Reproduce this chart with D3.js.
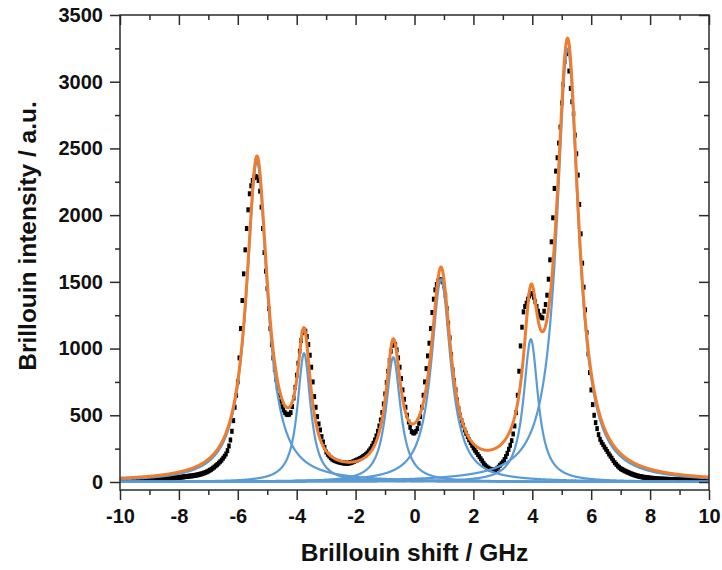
<!DOCTYPE html>
<html><head><meta charset="utf-8">
<script src="https://cdn.jsdelivr.net/npm/d3@7"></script>
<style>body{margin:0;background:#fff} svg{display:block}</style>
</head><body><svg id="c" width="722" height="570"></svg>
<script>
// ---- data ----
// measured Brillouin spectrum, x = -10 ... 10 GHz in 0.05 GHz steps (one row per GHz)
const shiftStart = -10, shiftStep = 0.05;
const intensity = [
  12,12,12,12,13,13,13,13,13,14,14,14,14,15,15,15,15,15,15,16,
  16,16,17,17,18,18,19,20,21,22,23,24,26,27,28,29,30,31,32,33,
  34,35,37,38,40,41,42,44,45,46,48,50,52,54,57,60,63,67,71,76,
  82,88,95,103,112,121,130,141,152,164,178,193,210,235,270,315,380,460,560,650,
  750,930,1150,1360,1560,1740,1900,2040,2160,2220,2260,2280,2290,2285,2260,2180,2060,1900,1720,1580,
  1450,1300,1150,1030,930,845,770,705,650,605,565,540,520,508,505,508,520,565,630,710,
  800,890,980,1060,1120,1140,1130,1090,1030,950,860,750,640,560,490,435,390,340,300,260,
  225,208,195,182,172,165,160,156,152,149,146,144,142,141,140,141,143,146,150,155,
  160,165,170,176,182,190,198,207,218,232,248,268,290,315,345,380,420,465,520,585,
  660,745,830,910,980,1025,1045,1030,990,930,860,775,690,620,560,500,450,410,378,368,
  368,380,400,440,490,560,650,750,850,945,1040,1150,1270,1370,1440,1480,1505,1515,1515,1500,
  1470,1400,1300,1190,1080,955,840,760,690,615,550,500,460,425,390,365,340,317,295,275,
  255,238,222,206,190,174,158,140,125,114,105,98,93,90,90,94,100,111,125,137,
  150,168,190,215,245,275,310,360,420,520,650,830,1020,1160,1275,1315,1340,1370,1395,1410,
  1412,1385,1350,1315,1280,1250,1235,1230,1280,1330,1400,1520,1665,1800,1980,2200,2330,2430,2540,2660,
  2840,2980,3150,3210,3225,3080,2950,2850,2760,2600,2460,2300,2080,1860,1640,1460,1290,1120,960,820,
  690,580,500,445,400,355,320,298,280,262,245,228,210,194,178,160,145,132,120,110,
  100,94,88,82,77,72,67,62,58,54,50,47,44,41,39,37,35,33,32,30,
  29,28,27,26,25,24,23,22,22,21,21,20,20,19,19,18,18,17,17,16,
  16,16,16,16,16,15,15,15,15,15,15,15,15,15,15,15,15,15,15,15,
  15
];
// Lorentzian fit components (centre GHz, height, half width)
const peakCentre = [-5.35, -3.75, -0.72, 0.90, 3.95, 5.20];
const peakHeight = [2400, 965, 935, 1520, 1070, 3248];
const peakHWHM   = [0.43, 0.27, 0.30, 0.40, 0.30, 0.45];

const xTicks = [-10,-8,-6,-4,-2,0,2,4,6,8,10];
const xMinor = [-9,-7,-5,-3,-1,1,3,5,7,9];
const yTicks = [0,500,1000,1500,2000,2500,3000,3500];
const yMinor = [250,750,1250,1750,2250,2750,3250];
const xTitle = "Brillouin shift / GHz";
const yTitle = "Brillouin intensity / a.u.";

// ---- drawing ----
const svg = d3.select("#c");
const L = 120, R = 709, T = 15, B = 490;
const x = d3.scaleLinear().domain([-10, 10]).range([L, R]);
const y = d3.scaleLinear().domain([-60, 3500]).range([B, T]);
const font = "'Liberation Sans', Arial, sans-serif";
const axisCol = "#2b2b2b";

const points = intensity.map((v, i) => ({ s: shiftStart + i * shiftStep, v }));

const lor = (s, k) => peakHeight[k] / (1 + Math.pow((s - peakCentre[k]) / peakHWHM[k], 2));
const grid = d3.range(0, 2001).map(i => -10 + i * 0.01);

svg.append("defs").append("clipPath").attr("id", "pc")
  .append("rect").attr("x", L).attr("y", T).attr("width", R - L).attr("height", B - T);
const plot = svg.append("g").attr("clip-path", "url(#pc)");

// data squares
plot.append("g").selectAll("rect").data(points).join("rect")
  .attr("x", d => x(d.s) - 1.75).attr("y", d => y(d.v) - 2.5)
  .attr("width", 3.5).attr("height", 5).attr("fill", "#000");

const line = d3.line().x(d => x(d[0])).y(d => y(d[1]));

// component curves
peakCentre.forEach((c, k) => {
  plot.append("path").datum(grid.map(s => [s, lor(s, k)]))
    .attr("d", line).attr("fill", "none")
    .attr("stroke", "#5b9bd5").attr("stroke-width", 2.2).attr("stroke-linejoin", "round");
});
// cumulative fit
plot.append("path").datum(grid.map(s => [s, d3.sum(peakCentre, (c, k) => lor(s, k))]))
  .attr("d", line).attr("fill", "none")
  .attr("stroke", "#ed7d31").attr("stroke-width", 3).attr("stroke-linejoin", "round");

// axes
function styleAxis(g) {
  g.select(".domain").remove();
  g.selectAll(".tick line").attr("stroke", axisCol).attr("stroke-width", 1.5);
  g.selectAll("text").attr("font-family", font).attr("font-weight", "bold")
    .attr("font-size", 20).attr("fill", "#111");
}
const fmt = d => String(d);
svg.append("g").attr("transform", `translate(0,${B})`)
  .call(d3.axisBottom(x).tickValues(xTicks).tickSize(10).tickPadding(9).tickFormat(fmt)).call(styleAxis);
svg.append("g").attr("transform", `translate(0,${B})`)
  .call(d3.axisBottom(x).tickValues(xMinor).tickSize(5).tickFormat("")).call(styleAxis);
svg.append("g").attr("transform", `translate(0,${T})`)
  .call(d3.axisTop(x).tickValues(xTicks).tickSize(-10).tickFormat("")).call(styleAxis);
svg.append("g").attr("transform", `translate(0,${T})`)
  .call(d3.axisTop(x).tickValues(xMinor).tickSize(-5).tickFormat("")).call(styleAxis);
svg.append("g").attr("transform", `translate(${L},0)`)
  .call(d3.axisLeft(y).tickValues(yTicks).tickSize(10).tickPadding(7).tickFormat(fmt)).call(styleAxis);
svg.append("g").attr("transform", `translate(${L},0)`)
  .call(d3.axisLeft(y).tickValues(yMinor).tickSize(5).tickFormat("")).call(styleAxis);
svg.append("g").attr("transform", `translate(${R},0)`)
  .call(d3.axisRight(y).tickValues(yTicks).tickSize(-10).tickFormat("")).call(styleAxis);
svg.append("g").attr("transform", `translate(${R},0)`)
  .call(d3.axisRight(y).tickValues(yMinor).tickSize(-5).tickFormat("")).call(styleAxis);

svg.append("rect").attr("x", L).attr("y", T).attr("width", R - L).attr("height", B - T)
  .attr("fill", "none").attr("stroke", axisCol).attr("stroke-width", 1.5);

svg.append("text").attr("x", (L + R) / 2).attr("y", 561).attr("text-anchor", "middle")
  .attr("font-family", font).attr("font-weight", "bold").attr("font-size", 24.5).attr("fill", "#111")
  .text(xTitle);
svg.append("text").attr("transform", `translate(36,236) rotate(-90)`).attr("text-anchor", "middle")
  .attr("font-family", font).attr("font-weight", "bold").attr("font-size", 24.5).attr("fill", "#111")
  .text(yTitle);
</script>
</body></html>
